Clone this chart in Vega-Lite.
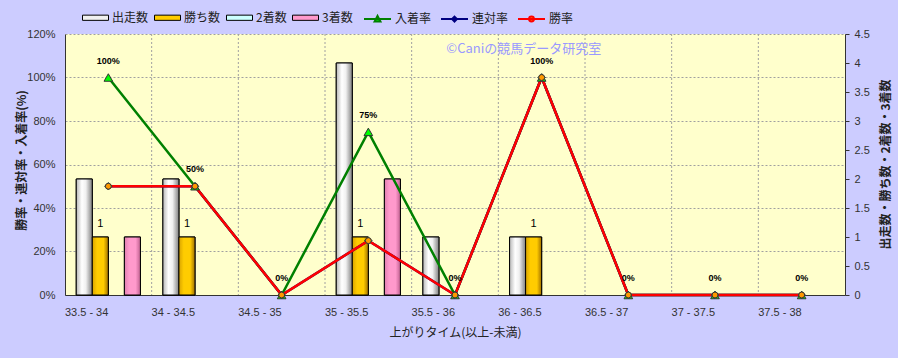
{
  "$schema": "https://vega.github.io/schema/vega-lite/v6.json",
  "width": 780,
  "height": 261,
  "autosize": {"type": "none"},
  "padding": {"left": 65, "top": 34, "right": 53, "bottom": 63},
  "background": "#CCCCFF",
  "config": {
    "view": {"fill": "#FFFFCC", "stroke": null},
    "font": "Liberation Sans",
    "axis": {
      "labelFont": "Liberation Sans",
      "labelFontSize": 11,
      "labelColor": "#333333",
      "titleFont": "Noto Sans CJK JP",
      "titleColor": "#222222",
      "domainColor": "#333333",
      "tickColor": "#333333"
    },
    "legend": {
      "labelFont": "Noto Sans CJK JP",
      "labelFontSize": 12,
      "labelColor": "#222222",
      "padding": 0
    }
  },
  "datasets": {
    "counts": [
      {"cat": "33.5 - 34", "series": "出走数", "value": 2},
      {"cat": "33.5 - 34", "series": "勝ち数", "value": 1},
      {"cat": "33.5 - 34", "series": "2着数", "value": 0},
      {"cat": "33.5 - 34", "series": "3着数", "value": 1},
      {"cat": "34 - 34.5", "series": "出走数", "value": 2},
      {"cat": "34 - 34.5", "series": "勝ち数", "value": 1},
      {"cat": "34 - 34.5", "series": "2着数", "value": 0},
      {"cat": "34 - 34.5", "series": "3着数", "value": 0},
      {"cat": "34.5 - 35", "series": "出走数", "value": 0},
      {"cat": "34.5 - 35", "series": "勝ち数", "value": 0},
      {"cat": "34.5 - 35", "series": "2着数", "value": 0},
      {"cat": "34.5 - 35", "series": "3着数", "value": 0},
      {"cat": "35 - 35.5", "series": "出走数", "value": 4},
      {"cat": "35 - 35.5", "series": "勝ち数", "value": 1},
      {"cat": "35 - 35.5", "series": "2着数", "value": 0},
      {"cat": "35 - 35.5", "series": "3着数", "value": 2},
      {"cat": "35.5 - 36", "series": "出走数", "value": 1},
      {"cat": "35.5 - 36", "series": "勝ち数", "value": 0},
      {"cat": "35.5 - 36", "series": "2着数", "value": 0},
      {"cat": "35.5 - 36", "series": "3着数", "value": 0},
      {"cat": "36 - 36.5", "series": "出走数", "value": 1},
      {"cat": "36 - 36.5", "series": "勝ち数", "value": 1},
      {"cat": "36 - 36.5", "series": "2着数", "value": 0},
      {"cat": "36 - 36.5", "series": "3着数", "value": 0},
      {"cat": "36.5 - 37", "series": "出走数", "value": 0},
      {"cat": "36.5 - 37", "series": "勝ち数", "value": 0},
      {"cat": "36.5 - 37", "series": "2着数", "value": 0},
      {"cat": "36.5 - 37", "series": "3着数", "value": 0},
      {"cat": "37 - 37.5", "series": "出走数", "value": 0},
      {"cat": "37 - 37.5", "series": "勝ち数", "value": 0},
      {"cat": "37 - 37.5", "series": "2着数", "value": 0},
      {"cat": "37 - 37.5", "series": "3着数", "value": 0},
      {"cat": "37.5 - 38", "series": "出走数", "value": 0},
      {"cat": "37.5 - 38", "series": "勝ち数", "value": 0},
      {"cat": "37.5 - 38", "series": "2着数", "value": 0},
      {"cat": "37.5 - 38", "series": "3着数", "value": 0}
    ],
    "rates": [
      {"cat": "33.5 - 34", "series": "入着率", "value": 1.0},
      {"cat": "34 - 34.5", "series": "入着率", "value": 0.5},
      {"cat": "34.5 - 35", "series": "入着率", "value": 0},
      {"cat": "35 - 35.5", "series": "入着率", "value": 0.75},
      {"cat": "35.5 - 36", "series": "入着率", "value": 0},
      {"cat": "36 - 36.5", "series": "入着率", "value": 1.0},
      {"cat": "36.5 - 37", "series": "入着率", "value": 0},
      {"cat": "37 - 37.5", "series": "入着率", "value": 0},
      {"cat": "37.5 - 38", "series": "入着率", "value": 0},
      {"cat": "33.5 - 34", "series": "連対率", "value": 0.5},
      {"cat": "34 - 34.5", "series": "連対率", "value": 0.5},
      {"cat": "34.5 - 35", "series": "連対率", "value": 0},
      {"cat": "35 - 35.5", "series": "連対率", "value": 0.25},
      {"cat": "35.5 - 36", "series": "連対率", "value": 0},
      {"cat": "36 - 36.5", "series": "連対率", "value": 1.0},
      {"cat": "36.5 - 37", "series": "連対率", "value": 0},
      {"cat": "37 - 37.5", "series": "連対率", "value": 0},
      {"cat": "37.5 - 38", "series": "連対率", "value": 0},
      {"cat": "33.5 - 34", "series": "勝率", "value": 0.5},
      {"cat": "34 - 34.5", "series": "勝率", "value": 0.5},
      {"cat": "34.5 - 35", "series": "勝率", "value": 0},
      {"cat": "35 - 35.5", "series": "勝率", "value": 0.25},
      {"cat": "35.5 - 36", "series": "勝率", "value": 0},
      {"cat": "36 - 36.5", "series": "勝率", "value": 1.0},
      {"cat": "36.5 - 37", "series": "勝率", "value": 0},
      {"cat": "37 - 37.5", "series": "勝率", "value": 0},
      {"cat": "37.5 - 38", "series": "勝率", "value": 0}
    ]
  },
  "layer": [
    {
      "data": {"name": "counts"},
      "transform": [{"filter": "datum.series === '出走数' && datum.cat !== '33.5 - 34'"}],
      "mark": {"type": "rule", "color": "#A0A0A0", "strokeDash": [2, 2], "strokeWidth": 1},
      "encoding": {
        "x": {"field": "cat", "type": "nominal", "bandPosition": 0, "sort": null,
              "scale": {"domain": ["33.5 - 34", "34 - 34.5", "34.5 - 35", "35 - 35.5", "35.5 - 36", "36 - 36.5", "36.5 - 37", "37 - 37.5", "37.5 - 38"], "paddingInner": 0, "paddingOuter": 0}}
      }
    },
    {
      "data": {"name": "counts"},
      "transform": [{"filter": "datum.value > 0"}],
      "mark": {"type": "bar", "stroke": "#000000", "strokeWidth": 1},
      "encoding": {
        "x": {"field": "cat", "type": "nominal", "sort": null,
              "scale": {"domain": ["33.5 - 34", "34 - 34.5", "34.5 - 35", "35 - 35.5", "35.5 - 36", "36 - 36.5", "36.5 - 37", "37 - 37.5", "37.5 - 38"], "paddingInner": 0, "paddingOuter": 0},
              "axis": {"title": "上がりタイム(以上-未満)", "titleFontSize": 12, "titleFontWeight": "normal", "titlePadding": 10, "labelAngle": 0, "ticks": false, "labelPadding": 17, "grid": false, "bandPosition": 0.5}},
        "xOffset": {"field": "series", "type": "nominal",
                    "scale": {"domain": ["出走数", "勝ち数", "2着数", "3着数"], "paddingOuter": 0.7, "paddingInner": 0}},
        "y": {"field": "value", "type": "quantitative",
              "scale": {"domain": [0, 4.5], "nice": false, "zero": true},
              "axis": {"orient": "right", "values": [0, 0.5, 1, 1.5, 2, 2.5, 3, 3.5, 4, 4.5], "format": ".1~f", "grid": false,
                       "tickSize": 4, "labelPadding": 5,
                       "title": "出走数・勝ち数・2着数・3着数", "titleFontSize": 12, "titleFontWeight": "bold", "titleAngle": -90,
                       "titleX": 40, "titleY": 130, "titleAlign": "center", "titleBaseline": "middle"}},
        "color": {"field": "series", "type": "nominal",
                  "scale": {"domain": ["出走数", "勝ち数", "2着数", "3着数"], "range": ["#F0F0F0", "#FFCC00", "#CCFFFF", "#FF99CC"]},
                  "legend": {"orient": "none", "legendX": 17, "legendY": -30, "direction": "horizontal", "title": null,
                             "symbolType": "M-1,-0.2H1V0.2H-1Z", "symbolSize": 676, "symbolStrokeColor": "#000000", "symbolStrokeWidth": 1,
                             "symbolOpacity": 1, "labelOffset": 3, "columnPadding": 3}}
      }
    },
    {
      "data": {"name": "counts"},
      "transform": [{"filter": "datum.value > 0 && datum.series === '出走数'"}],
      "mark": {"type": "bar", "stroke": "#000000", "strokeWidth": 1,
               "color": {"gradient": "linear", "x1": 0, "y1": 0, "x2": 1, "y2": 0, "stops": [{"offset": 0, "color": "#B8B8B8"}, {"offset": 0.35, "color": "#FFFFFF"}, {"offset": 0.6, "color": "#F0F0F0"}, {"offset": 1, "color": "#808080"}]}},
      "encoding": {
        "x": {"field": "cat", "type": "nominal", "sort": null},
        "xOffset": {"field": "series", "type": "nominal"},
        "y": {"field": "value", "type": "quantitative", "scale": {"domain": [0, 4.5], "nice": false}, "axis": null}
      }
    },
    {
      "data": {"name": "counts"},
      "transform": [{"filter": "datum.value > 0 && datum.series === '勝ち数'"}],
      "mark": {"type": "bar", "stroke": "#000000", "strokeWidth": 1,
               "color": {"gradient": "linear", "x1": 0, "y1": 0, "x2": 1, "y2": 0, "stops": [{"offset": 0, "color": "#D9A400"}, {"offset": 0.3, "color": "#FFCC00"}, {"offset": 0.7, "color": "#FFCC00"}, {"offset": 1, "color": "#A07000"}]}},
      "encoding": {
        "x": {"field": "cat", "type": "nominal", "sort": null},
        "xOffset": {"field": "series", "type": "nominal"},
        "y": {"field": "value", "type": "quantitative", "scale": {"domain": [0, 4.5], "nice": false}, "axis": null}
      }
    },
    {
      "data": {"name": "counts"},
      "transform": [{"filter": "datum.value > 0 && datum.series === '3着数'"}],
      "mark": {"type": "bar", "stroke": "#000000", "strokeWidth": 1,
               "color": {"gradient": "linear", "x1": 0, "y1": 0, "x2": 1, "y2": 0, "stops": [{"offset": 0, "color": "#E080B0"}, {"offset": 0.3, "color": "#FF99CC"}, {"offset": 0.7, "color": "#FF99CC"}, {"offset": 1, "color": "#C06090"}]}},
      "encoding": {
        "x": {"field": "cat", "type": "nominal", "sort": null},
        "xOffset": {"field": "series", "type": "nominal"},
        "y": {"field": "value", "type": "quantitative", "scale": {"domain": [0, 4.5], "nice": false}, "axis": null}
      }
    },
    {
      "data": {"name": "counts"},
      "transform": [{"filter": "datum.series === '勝ち数' && datum.value > 0"}],
      "mark": {"type": "text", "baseline": "middle", "align": "center", "dy": -13, "fontSize": 11, "color": "#000000", "font": "Liberation Sans"},
      "encoding": {
        "x": {"field": "cat", "type": "nominal", "sort": null},
        "xOffset": {"field": "series", "type": "nominal"},
        "y": {"field": "value", "type": "quantitative", "scale": {"domain": [0, 4.5], "nice": false}, "axis": null},
        "text": {"field": "value", "type": "quantitative"}
      }
    },
    {
      "data": {"name": "rates"},
      "mark": {"type": "line", "strokeWidth": 2.5},
      "encoding": {
        "x": {"field": "cat", "type": "nominal", "sort": null},
        "y": {"field": "value", "type": "quantitative",
              "scale": {"domain": [0, 1.2], "nice": false},
              "axis": {"orient": "left", "values": [0, 0.2, 0.4, 0.6, 0.8, 1.0, 1.2], "format": ".0%", "grid": true, "gridDash": [2, 2], "gridColor": "#A0A0A0",
                       "tickSize": 0, "labelPadding": 10,
                       "title": "勝率・連対率・入着率(%)", "titleFontSize": 12, "titleFontWeight": "bold", "titleAngle": -90,
                       "titleX": -44, "titleY": 126, "titleAlign": "center", "titleBaseline": "middle"}},
        "color": {"field": "series", "type": "nominal",
                  "scale": {"domain": ["入着率", "連対率", "勝率"], "range": ["#008000", "#000080", "#FF0000"]},
                  "legend": {"orient": "none", "legendX": 298, "legendY": -30, "direction": "horizontal", "title": null,
                             "symbolType": "M-1,0H1", "symbolSize": 729, "symbolStrokeWidth": 2,
                             "labelOffset": 3, "columnPadding": 5,
                             "encode": {"symbols": {"update": {
                               "shape": {"signal": "datum.value === '入着率' ? 'M-1,0H1M-0.22,0.2L0,-0.22L0.22,0.2Z' : datum.value === '連対率' ? 'M-1,0H1M0,-0.18L0.18,0L0,0.18L-0.18,0Z' : 'M-1,0H1M-0.18,0A0.18,0.18 0 1,0 0.18,0A0.18,0.18 0 1,0 -0.18,0Z'"},
                               "fill": {"signal": "datum.value === '入着率' ? '#00FF00' : datum.value === '連対率' ? '#00FFFF' : '#FF9900'"},
                               "opacity": {"value": 1}
                             }}}}}
      }
    },
    {
      "data": {"name": "rates"},
      "mark": {"type": "point", "filled": true, "stroke": "#333333", "strokeWidth": 1, "opacity": 1},
      "encoding": {
        "x": {"field": "cat", "type": "nominal", "sort": null},
        "y": {"field": "value", "type": "quantitative", "scale": {"domain": [0, 1.2], "nice": false}, "axis": null},
        "shape": {"field": "series", "type": "nominal", "scale": {"domain": ["入着率", "連対率", "勝率"], "range": ["triangle-up", "diamond", "circle"]}, "legend": null},
        "fill": {"field": "series", "type": "nominal", "scale": {"domain": ["入着率", "連対率", "勝率"], "range": ["#00FF00", "#00FFFF", "#FF9900"]}, "legend": null},
        "size": {"field": "series", "type": "ordinal", "scale": {"domain": ["入着率", "連対率", "勝率"], "range": [75, 35, 45]}, "legend": null}
      }
    },
    {
      "data": {"name": "rates"},
      "transform": [{"filter": "datum.series === '入着率'"}],
      "mark": {"type": "text", "baseline": "middle", "align": "center", "dy": -17, "fontSize": 9, "fontWeight": "bold", "color": "#000000", "font": "Liberation Sans"},
      "encoding": {
        "x": {"field": "cat", "type": "nominal", "sort": null},
        "y": {"field": "value", "type": "quantitative", "scale": {"domain": [0, 1.2], "nice": false}, "axis": null},
        "text": {"field": "value", "type": "quantitative", "format": ".0%"}
      }
    },
    {
      "data": {"values": [{"label": "©Caniの競馬データ研究室"}]},
      "mark": {"type": "text", "align": "left", "baseline": "middle", "fontSize": 13, "color": "#9999FF", "font": "Noto Sans CJK JP"},
      "encoding": {
        "x": {"datum": "35.5 - 36", "bandPosition": 0.4},
        "y": {"datum": 1.13, "scale": {"domain": [0, 1.2], "nice": false}, "axis": null},
        "text": {"field": "label", "type": "nominal"}
      }
    }
  ],
  "resolve": {"scale": {"y": "independent", "color": "independent"}}
}
